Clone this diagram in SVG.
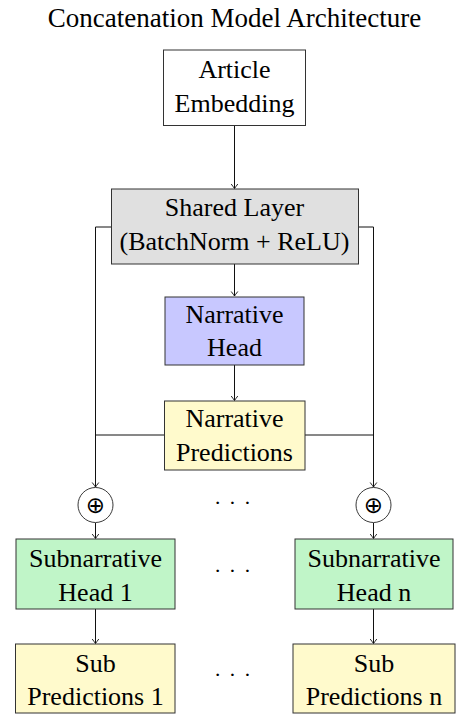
<svg xmlns="http://www.w3.org/2000/svg" width="469" height="728" viewBox="0 0 469 728">
<style>
text{font-family:"Liberation Serif","Times New Roman",serif;font-size:26px;fill:#000;text-anchor:middle}
.title{font-size:27px}
.box{stroke:#333;stroke-width:1}
.c{fill:none;stroke:#111;stroke-width:1}
.dots{font-size:22px;letter-spacing:1px}
.op{font-family:"DejaVu Sans",sans-serif;font-size:23px}
</style>
<defs>
<marker id="ah" markerUnits="userSpaceOnUse" markerWidth="10" markerHeight="10" viewBox="-5 -5 10 10" refX="0" refY="0" orient="auto">
<path d="M-4.5,-3.3 Q-1.2,-0.8 0,0 Q-1.2,0.8 -4.5,3.3" fill="none" stroke="#111" stroke-width="0.9"/>
</marker>
</defs>
<rect width="469" height="728" fill="#fff"/>
<text id="title" class="title" x="234.5" y="27">Concatenation Model Architecture</text>

<g id="connectors">
<line class="c" x1="234.5" y1="125.5" x2="234.5" y2="188.5" marker-end="url(#ah)"/>
<line class="c" x1="234.5" y1="264" x2="234.5" y2="296" marker-end="url(#ah)"/>
<line class="c" x1="234.5" y1="365" x2="234.5" y2="400.5" marker-end="url(#ah)"/>
<polyline class="c" points="112,227 95.5,227 95.5,487" marker-end="url(#ah)"/>
<polyline class="c" points="358,227 373.5,227 373.5,487" marker-end="url(#ah)"/>
<line class="c" x1="164" y1="435" x2="95.5" y2="435"/>
<line class="c" x1="305" y1="435" x2="373.5" y2="435"/>
<line class="c" x1="95.5" y1="523" x2="95.5" y2="538.5" marker-end="url(#ah)"/>
<line class="c" x1="373.5" y1="523" x2="373.5" y2="538.5" marker-end="url(#ah)"/>
<line class="c" x1="95.5" y1="609" x2="95.5" y2="643.5" marker-end="url(#ah)"/>
<line class="c" x1="373.5" y1="609" x2="373.5" y2="643.5" marker-end="url(#ah)"/>
</g>

<g id="article">
<rect class="box" x="163.5" y="50" width="142" height="75.5" fill="#fff"/>
<text x="234.5" y="78">Article</text>
<text x="234.5" y="111.5">Embedding</text>
</g>
<g id="shared">
<rect class="box" x="111.5" y="189" width="247" height="75" fill="#e0e0e0"/>
<text x="234.5" y="216">Shared Layer</text>
<text x="234.5" y="250">(BatchNorm + ReLU)</text>
</g>
<g id="narrative-head">
<rect class="box" x="165" y="297" width="139" height="68" fill="#c8c8ff"/>
<text x="234.5" y="322.5">Narrative</text>
<text x="234.5" y="356">Head</text>
</g>
<g id="narrative-predictions">
<rect class="box" x="164.5" y="401" width="140.5" height="69" fill="#fffacc"/>
<text x="234.5" y="427">Narrative</text>
<text x="234.5" y="460.5">Predictions</text>
</g>
<g id="concat-1">
<circle cx="95.5" cy="505" r="17.5" fill="#fff" stroke="#222" stroke-width="0.9"/>
<text class="op" x="95.5" y="513">⊕</text>
</g>
<g id="concat-n">
<circle cx="373.5" cy="505" r="17.5" fill="#fff" stroke="#222" stroke-width="0.9"/>
<text class="op" x="373.5" y="513">⊕</text>
</g>
<g id="dots">
<text class="dots" x="233" y="510">· · ·</text>
<text class="dots" x="233" y="578">· · ·</text>
<text class="dots" x="233" y="682">· · ·</text>
</g>
<g id="subnarrative-head-1">
<rect class="box" x="16" y="539" width="159" height="70" fill="#c0f5c8"/>
<text x="95.5" y="567">Subnarrative</text>
<text x="95.5" y="601">Head 1</text>
</g>
<g id="subnarrative-head-n">
<rect class="box" x="295" y="539" width="158" height="70" fill="#c0f5c8"/>
<text x="374" y="567">Subnarrative</text>
<text x="374" y="601">Head n</text>
</g>
<g id="sub-predictions-1">
<rect class="box" x="15.5" y="644" width="159.5" height="69" fill="#fffacc"/>
<text x="95.5" y="671.5">Sub</text>
<text x="95.5" y="705">Predictions 1</text>
</g>
<g id="sub-predictions-n">
<rect class="box" x="293" y="644" width="162" height="69" fill="#fffacc"/>
<text x="374" y="671.5">Sub</text>
<text x="374" y="705">Predictions n</text>
</g>
</svg>
